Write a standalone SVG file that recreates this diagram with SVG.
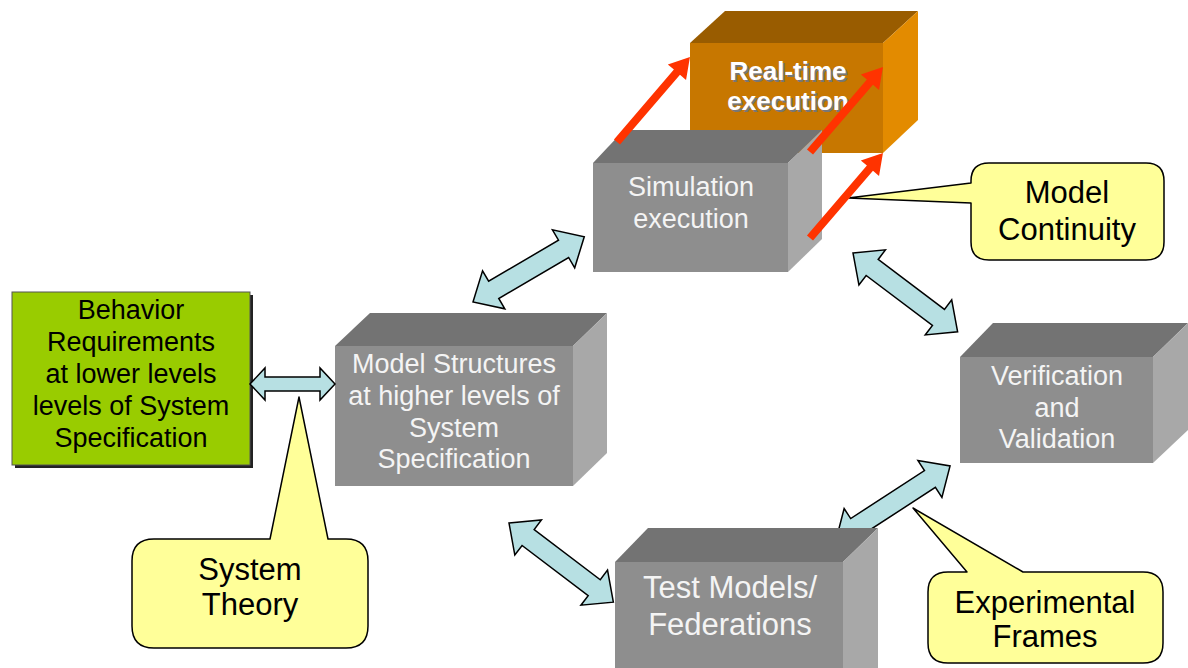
<svg xmlns="http://www.w3.org/2000/svg" width="1188" height="668" viewBox="0 0 1188 668">
<style>
.front{fill:#8E8E8E}
.top{fill:#737373}
.side{fill:#A8A8A8}
.ofront{fill:#C77700}
.otop{fill:#995C00}
.oside{fill:#E38B00}
.wt{font-family:"Liberation Sans",Arial,sans-serif;font-size:27px;fill:#F4F4F4;text-anchor:middle}
.wtl{font-family:"Liberation Sans",Arial,sans-serif;font-size:31px;fill:#F4F4F4;text-anchor:middle}
.bt{font-family:"Liberation Sans",Arial,sans-serif;font-size:27px;fill:#000;text-anchor:middle}
.ct{font-family:"Liberation Sans",Arial,sans-serif;font-size:31px;fill:#000;text-anchor:middle}
.rt{font-family:"Liberation Sans",Arial,sans-serif;font-size:26px;font-weight:bold;text-anchor:middle;fill:#FFFFFF}
.rts{font-family:"Liberation Sans",Arial,sans-serif;font-size:26px;font-weight:bold;text-anchor:middle;fill:#777777}
.callout{fill:#FFFF99;stroke:#000;stroke-width:1.5;stroke-linejoin:round}
.block{fill:#B7E0E3;stroke:#000;stroke-width:1.5;stroke-linejoin:miter}
.red{fill:#FF3300}
</style>
<defs>
<clipPath id="behindTest">
<path clip-rule="evenodd" d="M0,0 H1188 V668 H0 Z M615,562 L648,528 L878,528 L878,668 L615,668 Z"/>
</clipPath>
</defs>

<g id="realtime">
<polygon class="otop" points="690,43 725,11 918,11 883,43"/>
<polygon class="oside" points="883,43 918,11 918,120 883,153"/>
<rect class="ofront" x="690" y="43" width="193" height="110"/>
<text class="rts" x="790" y="82">Real-time</text>
<text class="rts" x="790" y="112">execution</text>
<text class="rt" x="788" y="80">Real-time</text>
<text class="rt" x="788" y="110">execution</text>
</g>

<g id="simulation">
<polygon class="top" points="593,163 624,130 822,130 788,163"/>
<polygon class="side" points="788,163 822,130 822,239 788,272"/>
<rect class="front" x="593" y="163" width="195" height="109"/>
<text class="wt" x="691" y="196">Simulation</text>
<text class="wt" x="691" y="228">execution</text>
</g>

<g id="behavior">
<rect x="15" y="295" width="238" height="173" fill="#222"/>
<rect x="12" y="292" width="238" height="173" fill="#99CC00" stroke="#555" stroke-width="1"/>
<text class="bt" x="131" y="319">Behavior</text>
<text class="bt" x="131" y="351">Requirements</text>
<text class="bt" x="131" y="383">at lower levels</text>
<text class="bt" x="131" y="415">levels of System</text>
<text class="bt" x="131" y="447">Specification</text>
</g>

<g id="modelstructures">
<polygon class="top" points="335,346 370,313 607,313 573,346"/>
<polygon class="side" points="573,346 607,313 607,453 573,486"/>
<rect class="front" x="335" y="346" width="238" height="140"/>
<text class="wt" x="454" y="373">Model Structures</text>
<text class="wt" x="454" y="405">at higher levels of</text>
<text class="wt" x="454" y="437">System</text>
<text class="wt" x="454" y="468">Specification</text>
</g>

<g id="verification">
<polygon class="top" points="960,357 993,323 1188,323 1153,357"/>
<polygon class="side" points="1153,357 1188,323 1188,430 1153,463"/>
<rect class="front" x="960" y="357" width="193" height="106"/>
<text class="wt" x="1057" y="385">Verification</text>
<text class="wt" x="1057" y="417">and</text>
<text class="wt" x="1057" y="448">Validation</text>
</g>

<g id="testmodels">
<polygon class="top" points="615,562 648,528 878,528 843,562"/>
<polygon class="side" points="843,562 878,528 878,680 843,680"/>
<rect class="front" x="615" y="562" width="228" height="118"/>
<text class="wtl" x="730" y="598">Test Models/</text>
<text class="wtl" x="730" y="635">Federations</text>
</g>

<g id="modelcontinuity">
<path class="callout" d="M989,163 H1146 Q1164,163 1164,181 V242 Q1164,260 1146,260 H989 Q971,260 971,242 V203 L848,198 L971,183 V181 Q971,163 989,163 Z"/>
<text class="ct" x="1067" y="203">Model</text>
<text class="ct" x="1067" y="240">Continuity</text>
</g>

<g id="systemtheory">
<path class="callout" d="M154,539 H270 L299,397 L328,539 H346 Q368,539 368,561 V626 Q368,648 346,648 H154 Q132,648 132,626 V561 Q132,539 154,539 Z"/>
<text class="ct" x="250" y="580">System</text>
<text class="ct" x="250" y="615">Theory</text>
</g>

<g id="experimentalframes">
<path class="callout" d="M948,572 H967 L913,508 L1023,572 H1143 Q1163,572 1163,592 V643 Q1163,663 1143,663 H948 Q928,663 928,643 V592 Q928,572 948,572 Z"/>
<text class="ct" x="1045" y="613">Experimental</text>
<text class="ct" x="1045" y="647">Frames</text>
</g>

<g id="connectors">
<path class="block" transform="translate(250,384)" d="M0,0 L15,-16 L15,-7 L70,-7 L70,-16 L85,0 L70,16 L70,7 L15,7 L15,16 Z"/>
<path class="block" transform="translate(473,302) rotate(-30.4)" d="M0,0 L24,-22 L24,-10 L105,-10 L105,-22 L129,0 L105,22 L105,10 L24,10 L24,22 Z"/>
<path class="block" transform="translate(853,253) rotate(37)" d="M0,0 L24,-22 L24,-10 L107,-10 L107,-22 L131,0 L107,22 L107,10 L24,10 L24,22 Z"/>
<path class="block" transform="translate(509,523) rotate(37.2)" d="M0,0 L24,-22 L24,-10 L107,-10 L107,-22 L131,0 L107,22 L107,10 L24,10 L24,22 Z"/>
<g clip-path="url(#behindTest)">
<path class="block" transform="translate(836,540) rotate(-33)" d="M0,0 L24,-22 L24,-10 L112,-10 L112,-22 L136,0 L112,22 L112,10 L24,10 L24,22 Z"/>
</g>
<path class="red" transform="translate(617,142) rotate(-49.35)" d="M0,-4 L92,-4 L92,-12 L112,0 L92,12 L92,4 L0,4 Z"/>
<path class="red" transform="translate(810,152) rotate(-49.35)" d="M0,-4 L92,-4 L92,-12 L112,0 L92,12 L92,4 L0,4 Z"/>
<path class="red" transform="translate(810,238) rotate(-49.35)" d="M0,-4 L92,-4 L92,-12 L112,0 L92,12 L92,4 L0,4 Z"/>
</g>
</svg>
